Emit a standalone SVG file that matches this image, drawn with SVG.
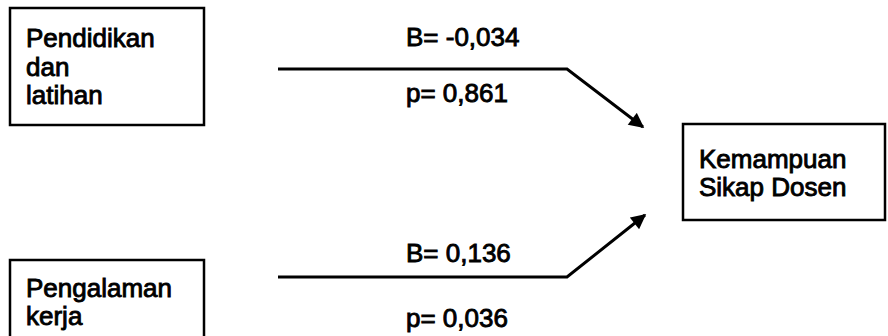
<svg xmlns="http://www.w3.org/2000/svg" width="888" height="336" viewBox="0 0 888 336">
<defs>
<marker id="arr" viewBox="0 0 10 10" refX="9" refY="5" markerWidth="5.5" markerHeight="5" markerUnits="strokeWidth" orient="auto">
<path d="M0,0 L10,5 L0,10 Z" fill="#000"/>
</marker>
<style>
.box{fill:#fff;stroke:#000;stroke-width:2.5}
.t{font-family:"Liberation Sans",Arial,sans-serif;font-size:26px;fill:#000;stroke:#000;stroke-width:0.9}
.c{fill:none;stroke:#000;stroke-width:3;stroke-linejoin:miter}
</style>
</defs>
<rect width="888" height="336" fill="#fff"/>
<g id="node-pendidikan">
<rect class="box" x="10" y="8" width="194" height="117"/>
<text class="t" x="26" y="47">Pendidikan</text>
<text class="t" x="26" y="75.5">dan</text>
<text class="t" x="26" y="104">latihan</text>
</g>
<g id="node-pengalaman">
<rect class="box" x="10" y="260" width="194" height="90"/>
<text class="t" x="26" y="297">Pengalaman</text>
<text class="t" x="26" y="325">kerja</text>
</g>
<g id="node-kemampuan">
<rect class="box" x="683" y="124" width="202" height="96"/>
<text class="t" x="699" y="168">Kemampuan</text>
<text class="t" x="699" y="196">Sikap Dosen</text>
</g>
<g id="connectors">
<polyline class="c" points="278,69 567,69 643,127" marker-end="url(#arr)"/>
<polyline class="c" points="278,277 567,277 645,215" marker-end="url(#arr)"/>
<text class="t" x="406" y="46">B= -0,034</text>
<text class="t" x="406" y="102">p= 0,861</text>
<text class="t" x="406" y="262">B= 0,136</text>
<text class="t" x="406" y="327">p= 0,036</text>
</g>
</svg>
